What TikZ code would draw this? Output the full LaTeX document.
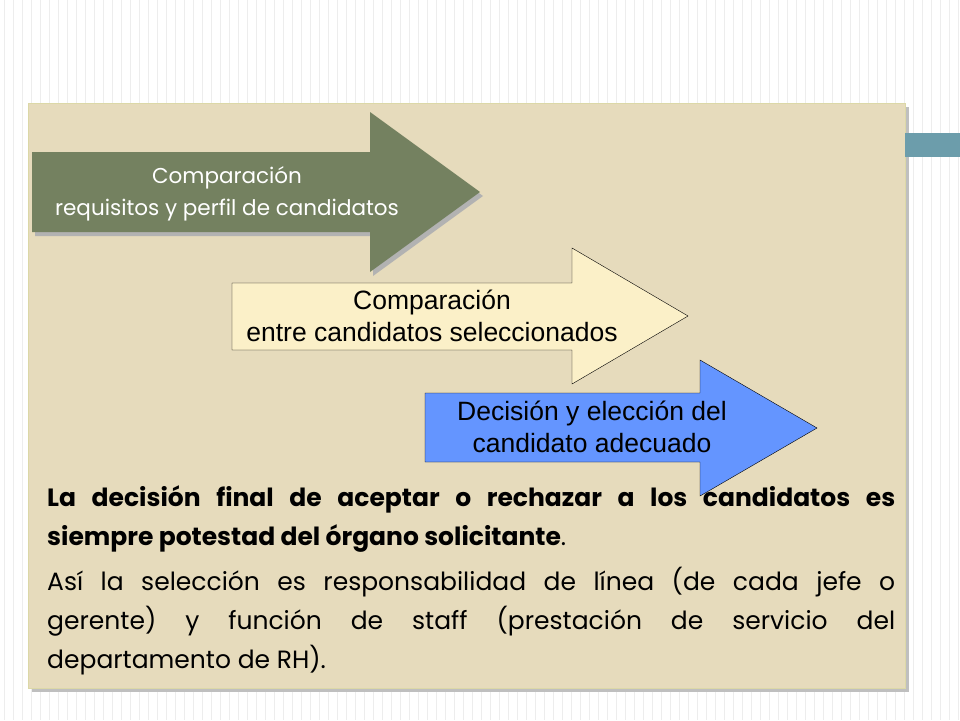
\documentclass[tikz,border=0pt]{standalone}
\usepackage{fontspec}
\setmainfont{Poppins}
\newfontfamily\arialfont{Liberation Sans}
\definecolor{beige}{HTML}{E6DBBC}
\definecolor{olive}{HTML}{748160}
\definecolor{cream}{HTML}{FBF0C8}
\definecolor{sky}{HTML}{6495FF}
\definecolor{teal}{HTML}{6C9DAB}
\tikzset{
  arrowtext/.style={align=center, font=\arialfont\fontsize{26.5}{32}\selectfont},
  bodytext/.style={anchor=north west, text width=848pt, inner sep=0pt, align=justify,
    font=\fontsize{25}{39}\selectfont}
}
\begin{document}
\begin{tikzpicture}[x=1pt,y=-1pt]
  \useasboundingbox (0,0) rectangle (960,720);
  \fill[white] (0,0) rectangle (960,720);
  \foreach \x in {4,13,...,960}
    \draw[black!7] (\x,0) -- (\x,720);
  % panel
  \fill[black!25] (32,107) rectangle (909,692);
  \filldraw[fill=beige, draw=yellow!60!black!40] (28,103) rectangle (905,688);
  \fill[teal] (905,133) rectangle (960,157);
  % arrows
  \fill[black!30] (35,156) -- (373,156) -- (373,116) -- (483,196) -- (373,276) -- (373,236) -- (35,236) -- cycle;
  \fill[olive] (32,152) -- (370,152) -- (370,112) -- (480,192) -- (370,272) -- (370,232) -- (32,232) -- cycle;
  \node[align=center, text=white, font=\fontsize{21.5}{32}\selectfont] (cmpreq) at (227,194)
    {Comparación\\ requisitos y perfil de candidatos};
  \filldraw[fill=cream, draw=black, line width=0.4pt] (232,283) -- (572,283) -- (572,248) -- (688,316) -- (572,384) -- (572,350) -- (232,350) -- cycle;
  \node[arrowtext] (cmpcand) at (432,316) {Comparación\\ entre candidatos seleccionados};
  \filldraw[fill=sky, draw=black, line width=0.4pt] (425,393) -- (700,393) -- (700,360) -- (817,428) -- (700,496) -- (700,462) -- (425,462) -- cycle;
  \node[arrowtext] (decis) at (592,427) {Decisión y elección del\\ candidato adecuado};
  % text
  \node[bodytext] (para1) at (47,485)
    {\textbf{La decisión final de aceptar o rechazar a los candidatos es\linebreak siempre potestad del órgano solicitante}.\par
     \vspace{6pt}
     Así la selección es responsabilidad de línea (de cada jefe o\linebreak gerente) y función de staff (prestación de servicio del\linebreak departamento de RH).};
\end{tikzpicture}
\end{document}
